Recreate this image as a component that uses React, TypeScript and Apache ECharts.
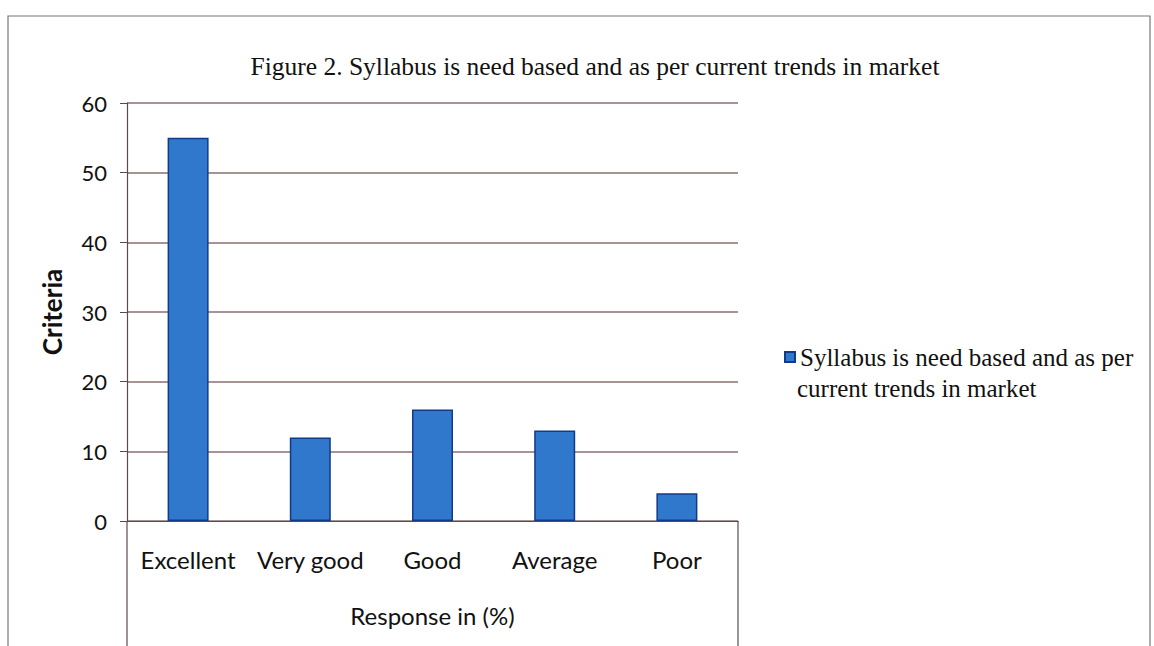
import React, { useEffect, useRef } from "react";
import * as echarts from "echarts";

const categories = ["Excellent", "Very good", "Good", "Average", "Poor"];
const seriesName = "Syllabus is need based and as per current trends in market";
const legendLine1 = "Syllabus is need based and as per";
const legendLine2 = "current trends in market";
const values = [55, 12, 16, 13, 4];
const titleText = "Figure 2. Syllabus is need based and as per current trends in market";
const yAxisName = "Criteria";
const xAxisName = "Response in (%)";

export default function App() {
  const ref = useRef<HTMLDivElement>(null);
  useEffect(() => {
    if (!ref.current) return;
    const chart = echarts.init(ref.current, undefined, { renderer: "svg" });
    chart.setOption({
      animation: false,
      backgroundColor: "#ffffff",
      title: {
        text: titleText,
        left: 590,
        top: 48,
        textAlign: "center",
        textStyle: { fontFamily: "Liberation Serif", fontSize: 25.5, fontWeight: "normal", color: "#111" },
      },
      legend: {
        left: 779,
        top: 337,
        orient: "vertical",
        itemWidth: 10,
        itemHeight: 10,
        icon: "rect",
        formatter: () => legendLine1,
        textStyle: { fontFamily: "Liberation Serif", fontSize: 25, color: "#111", lineHeight: 30 },
        data: [seriesName],
      },
      grid: { left: 127, right: 416, top: 103, bottom: 125, containLabel: false },
      xAxis: {
        type: "category",
        data: categories,
        name: xAxisName,
        nameLocation: "middle",
        nameGap: 82,
        nameTextStyle: { fontFamily: "Lato", fontSize: 24, color: "#111", verticalAlign: "top" },
        axisLine: { show: true, lineStyle: { color: "#5a4a4a", width: 1.2 } },
        axisTick: { show: false },
        axisLabel: { fontFamily: "Lato", fontSize: 24, color: "#111", margin: 26, interval: 0, hideOverlap: false },
      },
      yAxis: {
        type: "value",
        min: 0,
        max: 60,
        interval: 10,
        name: yAxisName,
        nameLocation: "middle",
        nameGap: 62,
        nameRotate: 90,
        nameTextStyle: { fontFamily: "Lato", fontSize: 26, fontWeight: "bold", color: "#111" },
        axisLine: { show: true, lineStyle: { color: "#5a4a4a", width: 1.2 } },
        axisTick: { show: true, length: 7, lineStyle: { color: "#5a4a4a" } },
        axisLabel: { fontFamily: "Lato", fontSize: 22, color: "#111", margin: 20 },
        splitLine: { show: true, lineStyle: { color: "#8a6f6f", width: 1.5 } },
      },
      series: [
        {
          name: seriesName,
          type: "bar",
          data: values,
          barWidth: 41,
          itemStyle: { color: "#2f78cc", borderColor: "#123a8a", borderWidth: 1.5 },
        },
      ],
      graphic: [
        {
          type: "rect",
          silent: true,
          shape: { x: 8, y: 16, width: 1142, height: 650 },
          style: { fill: "none", stroke: "#777", lineWidth: 1.2 },
        },
        {
          type: "line",
          silent: true,
          shape: { x1: 127, y1: 521, x2: 127, y2: 646 },
          style: { stroke: "#5a4a4a", lineWidth: 1.2 },
        },
        {
          type: "line",
          silent: true,
          shape: { x1: 738, y1: 521, x2: 738, y2: 646 },
          style: { stroke: "#5a4a4a", lineWidth: 1.2 },
        },
        {
          type: "text",
          silent: true,
          x: 797,
          y: 388,
          style: {
            text: legendLine2,
            fontFamily: "Liberation Serif",
            fontSize: 25,
            fill: "#111",
            verticalAlign: "middle",
            align: "left",
          },
        },
      ],
    });
    return () => chart.dispose();
  }, []);
  return <div ref={ref} style={{ position: "fixed", left: 0, top: 0, width: 1154, height: 646 }} />;
}
